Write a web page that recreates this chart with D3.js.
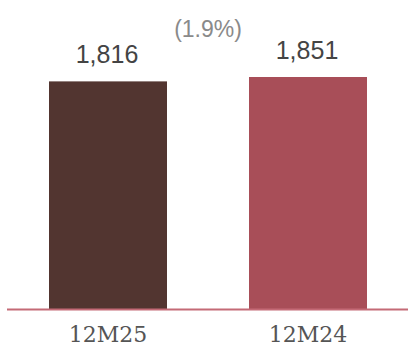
<!DOCTYPE html>
<html>
<head>
<meta charset="utf-8">
<script src="https://cdn.jsdelivr.net/npm/d3@7"></script>
<style>
  html, body { margin: 0; padding: 0; background: #fff; }
  svg { display: block; }
</style>
</head>
<body>
<svg id="chart" width="408" height="347"></svg>
<script>
// Period totals
const categories = ["12M25", "12M24"];
const values = [1816, 1851];
const barColors = ["#523530", "#A84E58"];
const changeLabel = "(1.9%)";

const svg = d3.select("#chart");
const W = 408, baseY = 309;

const x = d3.scaleBand()
  .domain(categories)
  .range([8, W])
  .paddingInner(0.41)
  .paddingOuter(0.205);

const y = d3.scaleLinear()
  .domain([0, d3.max(values)])
  .range([baseY, 77]);

const data = categories.map((c, i) => ({ cat: c, value: values[i], color: barColors[i] }));

// bars
svg.selectAll("rect.bar")
  .data(data)
  .join("rect")
  .attr("class", "bar")
  .attr("x", d => x(d.cat))
  .attr("y", d => y(d.value))
  .attr("width", x.bandwidth())
  .attr("height", d => baseY - y(d.value))
  .attr("fill", d => d.color);

// value labels above bars
svg.selectAll("text.val")
  .data(data)
  .join("text")
  .attr("class", "val")
  .attr("x", d => x(d.cat) + x.bandwidth() / 2 - 1)
  .attr("y", d => y(d.value) - 18)
  .attr("text-anchor", "middle")
  .attr("font-family", "Liberation Sans, Arial, sans-serif")
  .attr("font-size", 25)
  .attr("fill", "#444")
  .text(d => d3.format(",")(d.value));

// change between periods
svg.append("text")
  .attr("x", (x(categories[0]) + x(categories[1]) + x.bandwidth()) / 2)
  .attr("y", 37)
  .attr("text-anchor", "middle")
  .attr("font-family", "Liberation Sans, Arial, sans-serif")
  .attr("font-size", 23)
  .attr("fill", "#8a8a8a")
  .text(changeLabel);

// baseline axis
const axis = svg.append("g")
  .attr("transform", `translate(0,${baseY})`)
  .call(d3.axisBottom(x).tickSize(0).tickPadding(17));

axis.select(".domain")
  .attr("d", `M7,0.5H${W}`)
  .attr("stroke", "#C46A76")
  .attr("stroke-width", 2);

axis.selectAll(".tick text")
  .attr("font-family", "DejaVu Serif, serif")
  .attr("font-size", 22)
  .attr("fill", "#555")
  .attr("dy", "0.71em");
</script>
</body>
</html>
